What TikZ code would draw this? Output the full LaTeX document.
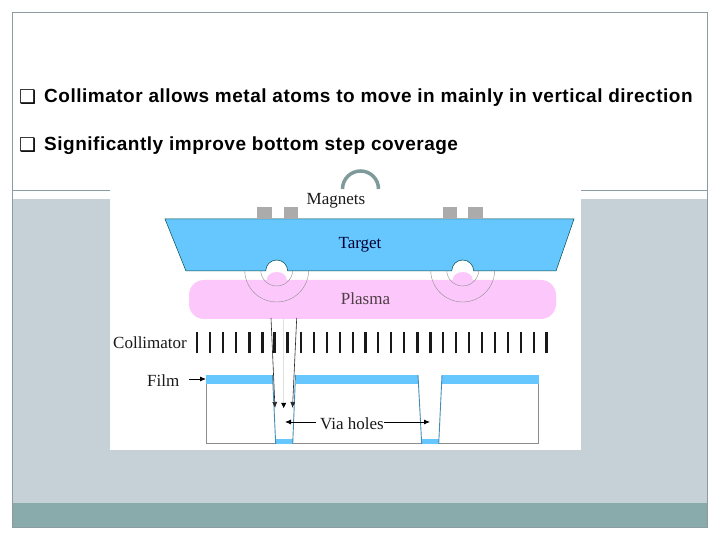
\documentclass[tikz,border=0pt]{standalone}
\usepackage{fontspec}
\setmainfont{Liberation Serif}
\newfontfamily\headfont[LetterSpace=2.7]{Liberation Sans}
\newfontfamily\boxfont{DejaVu Sans}
\usetikzlibrary{arrows.meta, calc, positioning}
\definecolor{framegrey}{HTML}{8A9C9E}
\definecolor{panelgrey}{HTML}{C5D1D7}
\definecolor{bandteal}{HTML}{8AABAB}
\definecolor{targetblue}{HTML}{66C7FF}
\definecolor{plasmapink}{HTML}{FCC8FC}
\definecolor{magnetgrey}{HTML}{ABABAB}
\definecolor{archgrey}{HTML}{7F9A9B}
\tikzset{
  headline/.style={anchor=west, inner sep=0pt, font=\headfont\bfseries\fontsize{19}{22}\selectfont},
  bulletbox/.style={anchor=west, inner sep=0pt, font=\boxfont\bfseries\fontsize{19}{22}\selectfont},
  partlabel/.style={inner sep=0pt, text=black!90, font=\fontsize{17}{20}\selectfont},
  thinarc/.style={draw=black!45, line width=0.4pt},
  pointer/.style={-{Latex[length=6pt,width=5pt]}, line width=0.8pt, black},
  ray/.style={-{Latex[length=6pt,width=5pt]}, line width=0.6pt, black!85},
}
\begin{document}
\begin{tikzpicture}[x=1pt, y=1pt]
  \useasboundingbox (0,0) rectangle (720,540);
  \fill[white] (0,0) rectangle (720,540);

  % slide frame
  \fill[panelgrey] (12,37) rectangle (707,341);
  \fill[bandteal] (12,13) rectangle (707,37);
  \draw[framegrey, line width=0.8pt] (12,350) -- (707,350);
  \draw[framegrey, line width=0.8pt] (12,13) rectangle (707,528);

  % picture ground
  \fill[white] (110,90) rectangle (581,362);
  \draw[archgrey, line width=3.5pt] (342.5,351) arc (180:0:18);

  % bullets
  \node[bulletbox] (boxa) at (19,443) {❑};
  \node[bulletbox] (boxb) at (19,395) {❑};
  \node[headline] (linea) at (44,442) {Collimator allows metal atoms to move in mainly in vertical direction};
  \node[headline] (lineb) at (44,394) {Significantly improve bottom step coverage};

  % plasma
  \fill[plasmapink, rounded corners=15pt] (189,221) rectangle (556,260);
  \foreach \x in {276.7,462.7} {
    \fill[plasmapink] (\x,260) ellipse (10 and 8);
  }

  % target and magnets
  \filldraw[fill=targetblue, draw=black!40!teal, line width=0.5pt]
    (165,321) -- (574,321) -- (556,269) -- (473.7,269)
    arc (0:180:11) -- (287.7,269) arc (0:180:11) -- (186,269) -- cycle;
  \foreach \x/\w in {257/14.5, 284/13.5, 443/14, 468/15} {
    \fill[magnetgrey] (\x,321) rectangle ++(\w,12);
  }

  % field arcs
  \foreach \x in {276.7,462.7} {
    \draw[thinarc] (\x-16,270) arc (180:360:16);
    \draw[thinarc] (\x-32,270) arc (180:360:32);
  }

  % collimator bars
  \foreach \i/\w in {0/2,1/2,2/2,3/2.5,4/3,5/3,6/3,7/3,8/2.5,9/2,10/2,11/2,12/2,
    13/2.5,14/2,15/2,16/2,17/3,18/3,19/2,20/2,21/2,22/2.5,23/2,24/2,25/2,26/2,27/3.5} {
    \draw[black!90, line width=\w pt] ({197.3+\i*12.94},186.5) -- ({197.3+\i*12.94},208);
  }

  % wafer with film and vias
  \draw[black!45, line width=1pt] (206,156) -- (206,96) -- (538.5,96) -- (538.5,156);
  \fill[targetblue] (206,156) rectangle (272.5,165);
  \fill[targetblue] (295.5,156) rectangle (418,165);
  \fill[targetblue] (442,156) rectangle (538.5,165);
  \foreach \xa/\xb/\xc/\xd in {272.5/275.7/292.7/295.5, 418/421.7/438.7/442} {
    \fill[targetblue] (\xb,96) rectangle (\xc,101);
    \draw[black!30!targetblue, line width=0.9pt] (\xa,165) -- (\xb,96);
    \draw[black!30!targetblue, line width=0.9pt] (\xd,165) -- (\xc,96);
  }

  % rays through the collimator
  \coordinate (raya) at (271,222);
  \coordinate (rayb) at (283.7,222);
  \coordinate (rayc) at (296.7,222);
  \coordinate (tipa) at (275,132);
  \coordinate (tipb) at (283.7,132);
  \coordinate (tipc) at (292.5,132);
  \draw[ray] (raya) -- (tipa);
  \draw[black!12, line width=0.8pt] (rayb) -- (tipb);
  \draw[ray] (rayc) -- (tipc);
  \fill[black] (tipb) -- ++(-2.5,5) -- ++(5,0) -- cycle;

  % labels
  \node[partlabel] (magnets) at (336,339.5) {Magnets};
  \node[partlabel, text=black!80!blue] (target) at (360,295.5) {Target};
  \node[partlabel, text=black!80!magenta] (plasma) at (365.5,241) {Plasma};
  \node[partlabel, anchor=west] (collimator) at (113,197) {Collimator};
  \node[partlabel, anchor=west] (film) at (147,159) {Film};
  \node[partlabel] (via) at (352,116) {Via holes};

  % pointers
  \coordinate (filmend) at (206,161);
  \coordinate (viaa) at (285,118);
  \coordinate (viab) at (430,118);
  \draw[pointer] (189,161) -- (filmend);
  \draw[pointer, shorten <=4pt] (via.west |- viaa) -- (viaa);
  \draw[pointer] (via.east |- viab) -- (viab);
\end{tikzpicture}
\end{document}
